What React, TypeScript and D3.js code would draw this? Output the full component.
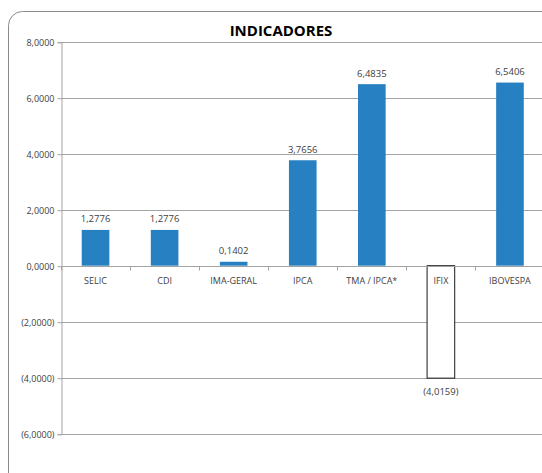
import { useEffect, useRef } from "react"
import * as d3 from "d3"

const categories = ["SELIC", "CDI", "IMA-GERAL", "IPCA", "TMA / IPCA*", "IFIX", "IBOVESPA"]
const values = [1.2776, 1.2776, 0.1402, 3.7656, 6.4835, -4.0159, 6.5406]
const yTicks = [8, 6, 4, 2, 0, -2, -4, -6]

const FONT = "'Open Sans', sans-serif"
const BLUE = "#2680c2"

const ptBR = d3.formatLocale({
  decimal: ",",
  thousands: ".",
  grouping: [3],
  currency: ["R$", ""],
})
const fmt = ptBR.format("(.4f")

export default function App() {
  const svgRef = useRef<SVGSVGElement>(null)

  useEffect(() => {
    if (!svgRef.current) return
    const svg = d3.select(svgRef.current)
    svg.selectAll("*").remove()

    const width = 542
    const height = 473
    const plot = { left: 61, right: 544.5, top: 41.7, bottom: 433.7 }

    // outer frame, cut off on the right and bottom like the original
    svg.append("rect")
      .attr("x", 8.5)
      .attr("y", 11.5)
      .attr("width", 560)
      .attr("height", 500)
      .attr("rx", 14)
      .attr("fill", "#fff")
      .attr("stroke", "#8a8a8a")
      .attr("stroke-width", 1)

    svg.append("text")
      .attr("x", 281)
      .attr("y", 36)
      .attr("text-anchor", "middle")
      .style("font-family", FONT)
      .style("font-size", "15px")
      .style("font-weight", "bold")
      .style("fill", "#000")
      .text("INDICADORES")

    const x = d3.scaleBand<string>()
      .domain(categories)
      .range([plot.left, plot.right])
      .paddingInner(0)
      .paddingOuter(0)

    const y = d3.scaleLinear()
      .domain([-6, 8])
      .range([plot.bottom, plot.top])

    const g = svg.append("g")

    // gridlines
    g.selectAll("line.grid")
      .data(yTicks)
      .join("line")
      .attr("class", "grid")
      .attr("x1", plot.left)
      .attr("x2", plot.right)
      .attr("y1", d => Math.round(y(d)) + 0.5)
      .attr("y2", d => Math.round(y(d)) + 0.5)
      .attr("stroke", "#a3a3a3")
      .attr("stroke-width", 1)

    // y axis
    const yAxis = d3.axisLeft(y)
      .tickValues(yTicks)
      .tickSize(4)
      .tickPadding(3)
      .tickFormat(d => fmt(d as number))

    const ya = g.append("g")
      .attr("transform", `translate(${plot.left + 0.5},0.5)`)
      .call(yAxis)
    ya.select(".domain").attr("stroke", "#a3a3a3")
    ya.selectAll(".tick line").attr("stroke", "#a3a3a3")
    ya.selectAll(".tick text")
      .style("font-family", FONT)
      .style("font-size", "9px")
      .style("fill", "#404040")

    // bars
    g.selectAll("rect.bar")
      .data(values)
      .join("rect")
      .attr("class", "bar")
      .attr("x", (_, i) => x(categories[i])! + x.bandwidth() * 0.3)
      .attr("width", x.bandwidth() * 0.4)
      .attr("y", d => y(Math.max(0, d)))
      .attr("height", d => Math.abs(y(d) - y(0)))
      .attr("fill", d => (d < 0 ? "#fff" : BLUE))
      .attr("stroke", d => (d < 0 ? "#1a1a1a" : "none"))
      .attr("stroke-width", 1)

    // category axis on the zero line
    const zeroY = Math.round(y(0)) + 0.5
    const xa = g.append("g").attr("transform", `translate(0,${zeroY})`)
    xa.append("line")
      .attr("x1", plot.left)
      .attr("x2", plot.right)
      .attr("stroke", "#a3a3a3")
    xa.selectAll("line.tick")
      .data(categories)
      .join("line")
      .attr("class", "tick")
      .attr("x1", d => Math.round(x(d)!) + 0.5)
      .attr("x2", d => Math.round(x(d)!) + 0.5)
      .attr("y1", 0)
      .attr("y2", 4)
      .attr("stroke", "#a3a3a3")
    xa.selectAll("text")
      .data(categories)
      .join("text")
      .attr("x", d => x(d)! + x.bandwidth() / 2)
      .attr("y", 17)
      .attr("text-anchor", "middle")
      .style("font-family", FONT)
      .style("font-size", "9px")
      .style("fill", "#404040")
      .text(d => d)

    // value labels
    g.selectAll("text.val")
      .data(values)
      .join("text")
      .attr("class", "val")
      .attr("x", (_, i) => x(categories[i])! + x.bandwidth() / 2)
      .attr("y", d => (d < 0 ? y(d) + 17 : y(d) - 7.5))
      .attr("text-anchor", "middle")
      .style("font-family", FONT)
      .style("font-size", "9.5px")
      .style("fill", "#404040")
      .text(d => fmt(d))

    svg.attr("width", width).attr("height", height)
  }, [])

  return (
    <div style={{ position: "absolute", left: 0, top: 0, width: 542, height: 473, background: "#fff" }}>
      <svg ref={svgRef} width={542} height={473} style={{ display: "block" }} />
    </div>
  )
}
